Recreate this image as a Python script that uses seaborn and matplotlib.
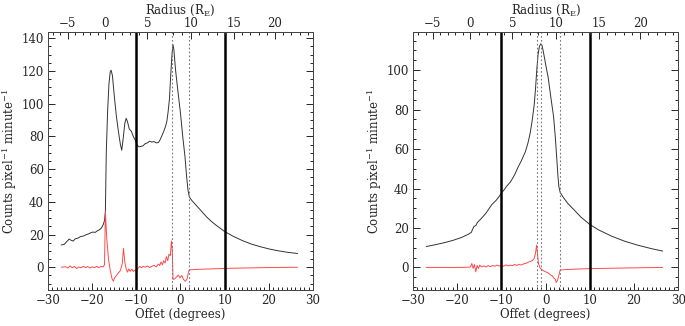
import numpy as np
import pandas as pd
import matplotlib
matplotlib.use("Agg")
import matplotlib.pyplot as plt
import seaborn as sns
from matplotlib.ticker import MultipleLocator, FixedLocator

# left panel: total counts and residual vs offset
left_off = [-27.0, -26.3, -25.8, -25.2, -24.7, -24.3, -23.8, -23.2, -22.6, -22.0, -21.4, -20.8, -20.2,
            -19.8, -19.3, -18.8, -18.3, -17.9, -17.5, -17.2, -17.0, -16.8, -16.5, -16.2, -15.9, -15.7,
            -15.4, -15.0, -14.5, -14.0, -13.6, -13.3, -13.0, -12.6, -12.3, -12.0, -11.6, -11.1, -10.7,
            -10.2, -9.8, -9.4, -9.0, -8.5, -8.0, -7.5, -7.0, -6.5, -6.0, -5.5, -5.0, -4.6, -4.2, -3.8,
            -3.4, -3.1, -2.8, -2.5, -2.2, -1.9, -1.7, -1.5, -1.1, -0.6, 0.0, 0.5, 1.0, 1.4, 1.7, 2.0,
            2.5, 3.0, 4.0, 5.0, 6.0, 7.0, 8.0, 9.0, 10.0, 12.0, 14.0, 16.0, 18.0, 20.0, 22.0, 24.0, 26.5]
left_total = [13.6, 14.0, 15.5, 17.2, 16.4, 16.0, 17.4, 17.8, 18.8, 19.0, 19.8, 20.4, 21.2,
              21.5, 21.3, 22.3, 23.0, 24.0, 26.0, 28.5, 34.0, 70.0, 95.0, 112.0, 119.5, 120.4,
              117.0, 105.0, 92.0, 82.0, 75.0, 71.5, 78.0, 88.0, 91.0, 89.0, 84.5, 83.0, 80.0,
              77.5, 74.5, 73.6, 73.8, 74.2, 75.5, 76.0, 77.0, 76.5, 76.8, 76.0, 76.2, 78.0, 80.5, 83.0,
              86.0, 89.0, 95.0, 103.0, 118.0, 131.0, 136.0, 133.0, 120.0, 108.0, 94.0, 80.0, 68.0, 55.0, 47.0, 43.0,
              41.0, 39.5, 36.5, 33.5, 30.5, 28.0, 25.8, 23.8, 21.8, 18.8, 16.3, 14.2, 12.6, 11.2, 10.1, 9.2, 8.4]

left_res_off = [-27.0, -26.0, -25.5, -25.0, -24.5, -24.0, -23.5, -23.0, -22.5, -22.0, -21.5, -21.0, -20.5,
                -20.0, -19.5, -19.0, -18.5, -18.0, -17.5, -17.2, -17.0, -16.7, -16.3, -15.9, -15.5, -15.2,
                -14.9, -14.5, -14.1, -13.6, -13.2, -12.9, -12.6, -12.3, -12.0, -11.7, -11.4, -11.0, -10.7,
                -10.3, -10.0, -9.6, -9.2, -8.8, -8.4, -8.0, -7.5, -7.0, -6.5, -6.0, -5.5, -5.0, -4.7, -4.4,
                -4.1, -3.8, -3.5, -3.2, -2.9, -2.6, -2.3, -2.05, -1.85, -1.7, -1.3, -0.9, -0.5, -0.1, 0.3,
                0.7, 1.1, 1.5, 1.8, 2.0, 4.0, 8.0, 12.0, 16.0, 20.0, 26.5]
left_res = [0.0, 0.3, -0.5, 0.8, -0.3, 0.5, -0.8, 0.2, -0.4, 0.6, -0.2, 0.4, -0.5,
            0.3, -0.3, 0.5, -0.2, 0.4, 0.2, 1.5, 34.0, 18.0, 5.0, -2.0, -7.0, -8.5,
            -6.5, -5.0, -3.6, -2.0, 2.0, 11.5, 3.0, -1.0, -3.0, -1.0, -2.5, -1.2, -2.6,
            -1.8, -2.5, -0.5, 0.5, -0.3, 0.6, 0.0, 0.8, -0.2, 0.5, 1.2, 0.2, 2.0, 1.0, 3.2,
            1.5, 4.0, 2.5, 6.5, 4.0, 8.0, 7.0, 16.0, 10.0, -7.5, -7.0, -6.0, -4.8, -6.5, -5.0,
            -7.5, -8.6, -7.0, -3.0, -1.6, -1.3, -0.9, -0.6, -0.4, -0.2, 0.0]

# right panel
right_off = [-27.0, -25.0, -23.0, -21.0, -19.0, -17.5, -16.8, -16.5, -16.2, -15.8, -15.5, -15.2, -14.8,
             -14.4, -13.5, -12.8, -12.2, -11.2, -10.5, -10.0, -9.4, -8.8, -8.0, -7.7, -7.0, -6.2, -5.5,
             -4.6, -4.0, -3.5, -3.0, -2.6, -2.3, -2.0, -1.7, -1.4, -1.1, -0.8, -0.4, 0.0, 0.6, 1.2, 1.8,
             2.2, 2.5, 2.8, 3.0, 3.3, 4.0, 5.0, 6.3, 8.0, 10.0, 12.0, 15.0, 18.0, 21.0, 24.0, 26.5]
right_total = [10.6, 11.5, 12.5, 13.7, 15.2, 16.8, 17.8, 19.5, 20.8, 21.2, 22.5, 23.4, 24.2,
               25.2, 27.5, 29.8, 31.8, 34.0, 36.0, 37.7, 39.3, 41.2, 43.2, 44.3, 47.0, 51.0, 54.0,
               58.5, 63.0, 68.0, 75.0, 82.0, 90.0, 100.0, 108.0, 112.0, 113.3, 112.5, 108.0, 103.0, 96.0, 86.0, 76.5,
               66.0, 56.0, 46.0, 41.0, 38.0, 35.5, 32.5, 29.5, 25.5, 21.8, 19.0, 15.8, 13.2, 11.2, 9.5, 8.3]

right_res_off = [-27.0, -24.0, -20.0, -17.5, -17.0, -16.7, -16.4, -16.1, -15.8, -15.5, -15.2, -14.9, -14.5,
                 -14.0, -13.5, -13.0, -12.5, -12.0, -11.5, -11.0, -10.5, -10.0, -9.5, -9.0, -8.5, -8.0,
                 -7.5, -7.0, -6.5, -6.0, -5.5, -5.0, -4.5, -4.0, -3.5, -3.0, -2.6, -2.3, -2.05, -1.85,
                 -1.6, -1.3, -1.0, -0.6, -0.2, 0.3, 0.7, 1.1, 1.5, 1.9, 2.2, 2.4, 2.7, 3.0, 3.3, 5.0,
                 10.0, 15.0, 20.0, 26.5]
right_res = [0.0, 0.0, 0.0, 0.1, 0.3, 2.0, -0.5, 1.5, -2.2, 1.0, -0.5, 1.2, 0.3,
             0.8, 0.2, 0.9, 0.4, 1.0, 0.6, 1.2, 0.7, 1.0, 0.6, 1.3, 0.8, 1.2,
             0.9, 1.5, 1.0, 1.6, 1.2, 1.8, 2.0, 2.6, 3.0, 3.5, 4.5, 7.0, 11.3, 7.0,
             2.0, 0.0, -0.8, -1.5, -2.0, -2.5, -3.0, -3.8, -4.2, -5.5, -6.0, -7.6, -6.5, -4.0, -1.3, -1.0,
             -0.6, -0.4, -0.2, 0.0]

# reference lines
solid_lines = [-10, 10]
left_dotted = [-1.9, 2.0]
right_dotted = [-1.9, -1.0, 3.3]

# top axis: radius labels and where they sit in offset
radius_major = [-5, 0, 5, 10, 15, 20]
radius_pos = [-25.5, -17.1, -7.5, 2.3, 12.1, 21.4]

BLACK = '#333333'
RED = '#ff4a4a'
FS = 8.5


def r2off(r):
    r = np.asarray(r, dtype=float)
    out = np.interp(r, radius_major, radius_pos)
    lo_slope = (radius_pos[1] - radius_pos[0]) / 5
    hi_slope = (radius_pos[-1] - radius_pos[-2]) / 5
    out = np.where(r < radius_major[0], radius_pos[0] + (r - radius_major[0]) * lo_slope, out)
    out = np.where(r > radius_major[-1], radius_pos[-1] + (r - radius_major[-1]) * hi_slope, out)
    return out


def draw_panel(ax, off, total, res_off, res, dotted, ylim, yticks):
    df_t = pd.DataFrame({'off': off, 'val': total})
    df_r = pd.DataFrame({'off': res_off, 'val': res})
    sns.lineplot(data=df_t, x='off', y='val', color=BLACK, lw=0.7, sort=False, ax=ax)
    sns.lineplot(data=df_r, x='off', y='val', color=RED, lw=0.7, sort=False, ax=ax)
    for x in solid_lines:
        ax.axvline(x, color='black', lw=1.8)
    for x in dotted:
        ax.axvline(x, color='#777777', lw=0.8, ls=(0, (1.5, 2)))

    ax.set_xlim(-30, 30)
    ax.set_ylim(*ylim)
    ax.xaxis.set_major_locator(MultipleLocator(10))
    ax.xaxis.set_minor_locator(MultipleLocator(1))
    ax.set_yticks(yticks)
    ax.yaxis.set_minor_locator(MultipleLocator(5))
    ax.tick_params(which='both', direction='in', top=False, right=True, labelsize=FS, width=0.7, pad=3)
    ax.tick_params(which='major', length=5)
    ax.tick_params(which='minor', length=2.5)
    ax.set_xlabel('Offet (degrees)', fontsize=FS, labelpad=0.5)
    ax.set_ylabel('Counts pixel$^{-1}$ minute$^{-1}$', fontsize=FS, labelpad=2)
    for s in ax.spines.values():
        s.set_linewidth(0.7)
        s.set_color('#444444')

    top = ax.twiny()
    top.set_xlim(ax.get_xlim())
    top.xaxis.set_major_locator(FixedLocator(r2off(radius_major)))
    top.set_xticklabels([str(r).replace('-', '\u2212') for r in radius_major])
    top.xaxis.set_minor_locator(FixedLocator(r2off(np.arange(-7, 25))))
    top.tick_params(which='both', direction='in', labelsize=FS, width=0.7, pad=1)
    top.tick_params(which='major', length=5)
    top.tick_params(which='minor', length=2.5)
    top.set_xlabel('Radius (R$_{\\rm E}$)', fontsize=FS, labelpad=2.5)
    for s in top.spines.values():
        s.set_linewidth(0.7)
        s.set_color('#444444')


def main():
    sns.set_theme(style="ticks")
    plt.rcParams['font.family'] = ['DejaVu Serif']
    plt.rcParams['mathtext.fontset'] = 'dejavuserif'
    plt.rcParams['axes.unicode_minus'] = True

    fig = plt.figure(figsize=(6.85, 3.26), dpi=100)
    ax1 = fig.add_axes([0.070, 0.110, 0.387, 0.793])
    ax2 = fig.add_axes([0.603, 0.110, 0.387, 0.793])

    draw_panel(ax1, left_off, left_total, left_res_off, left_res, left_dotted,
               (-14, 144), [0, 20, 40, 60, 80, 100, 120, 140])
    draw_panel(ax2, right_off, right_total, right_res_off, right_res, right_dotted,
               (-11.5, 119.5), [0, 20, 40, 60, 80, 100])

    fig.savefig('out.png', dpi=100)
    plt.close(fig)


if __name__ == "__main__":
    main()
